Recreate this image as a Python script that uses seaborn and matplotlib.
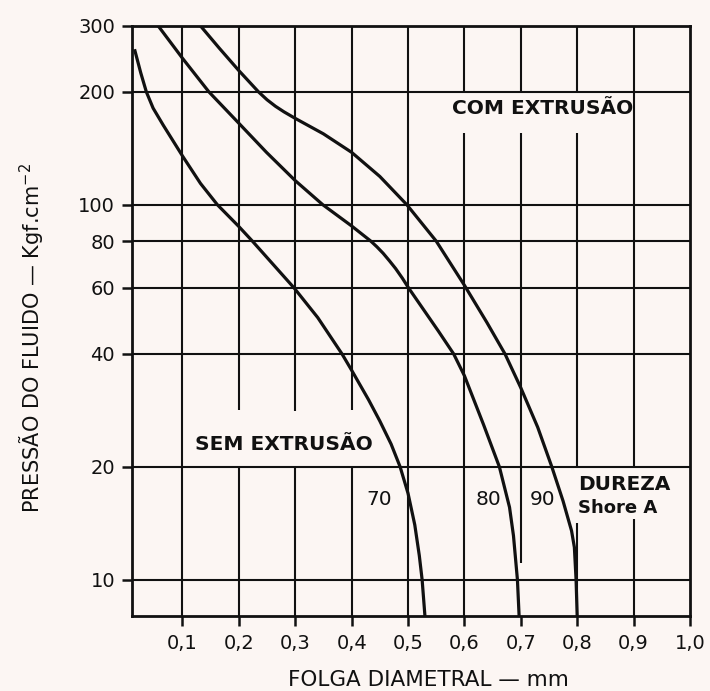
import numpy as np
import pandas as pd
import matplotlib
matplotlib.use("Agg")
import matplotlib.pyplot as plt
from matplotlib.ticker import NullLocator, FixedLocator, FixedFormatter
import seaborn as sns

# ---------------- data ----------------
dureza_labels = ["70", "80", "90"]

folga_70 = [0.015, 0.026, 0.036, 0.048, 0.066, 0.100, 0.132, 0.162, 0.200,
            0.224, 0.298, 0.340, 0.383, 0.400, 0.430, 0.450, 0.470, 0.486,
            0.500, 0.512, 0.520, 0.525, 0.530]
pressao_70 = [260, 225, 200, 181, 163, 135, 114, 100, 87.5,
              80, 60, 50.0, 40, 36.2, 30.2, 26.5, 23.0, 20,
              17.0, 14.0, 11.6, 10, 8.0]

folga_80 = [0.057, 0.100, 0.147, 0.200, 0.249, 0.300, 0.349, 0.400, 0.434,
            0.445, 0.456, 0.467, 0.478, 0.490, 0.501, 0.554, 0.581, 0.600,
            0.634, 0.662, 0.680, 0.687, 0.694, 0.697]
pressao_80 = [300, 246, 200, 165, 138, 116, 100, 87.8, 80,
              77.2, 74.2, 70.9, 67.6, 63.7, 60, 46.0, 40, 35.0,
              25.9, 20, 15.6, 13.1, 10, 8.0]

folga_90 = [0.132, 0.165, 0.200, 0.235, 0.250, 0.265, 0.280, 0.300, 0.350,
            0.400, 0.450, 0.498, 0.550, 0.600, 0.640, 0.672, 0.700, 0.730,
            0.755, 0.775, 0.790, 0.795, 0.798, 0.800]
pressao_90 = [300, 262, 228, 200, 190.6, 183.1, 177.0, 170, 154.6,
              138, 119, 100, 80, 61, 48.5, 40, 32.5, 25.5,
              20, 16.2, 13.5, 12.2, 10, 8.0]

x_ticks = [0.1, 0.2, 0.3, 0.4, 0.5, 0.6, 0.7, 0.8, 0.9, 1.0]
x_tick_labels = ["0,1", "0,2", "0,3", "0,4", "0,5", "0,6", "0,7", "0,8", "0,9", "1,0"]
y_ticks = [10, 20, 40, 60, 80, 100, 200, 300]
y_tick_labels = ["10", "20", "40", "60", "80", "100", "200", "300"]

# ---------------- style ----------------
BG = "#FCF6F3"
INK = "#111111"
sns.set_style("ticks")
plt.rcParams["font.family"] = ["DejaVu Sans"]

df = pd.concat([
    pd.DataFrame({"folga": folga_70, "pressao": pressao_70, "dureza": "70"}),
    pd.DataFrame({"folga": folga_80, "pressao": pressao_80, "dureza": "80"}),
    pd.DataFrame({"folga": folga_90, "pressao": pressao_90, "dureza": "90"}),
], ignore_index=True)

fig = plt.figure(figsize=(7.1, 6.91), dpi=100, facecolor=BG)
ax = fig.add_axes([0.1855, 0.1085, 0.7863, 0.854])
ax.set_facecolor(BG)

XMIN, XMAX = 0.01, 1.0
YMIN, YMAX = 8.0, 300

ax.set_yscale("log")
ax.set_xlim(XMIN, XMAX)
ax.set_ylim(YMIN, YMAX)

# grid lines (with the gaps left for the labels in the original drawing)
grid_lw = 1.5
ax.hlines([10, 20, 40, 60, 80, 100, 200], XMIN, XMAX, color=INK, lw=grid_lw, zorder=1)
vgrid_segments = {
    0.1: [(YMIN, YMAX)],
    0.2: [(YMIN, 20), (28.4, YMAX)],
    0.3: [(YMIN, 20), (28.2, YMAX)],
    0.4: [(YMIN, 20), (28.4, YMAX)],
    0.5: [(YMIN, YMAX)],
    0.6: [(YMIN, 155), (200, YMAX)],
    0.7: [(11.1, 155), (200, YMAX)],
    0.8: [(YMIN, 14.2), (20, 155), (200, YMAX)],
    0.9: [(YMIN, 14.5), (20, YMAX)],
}
for xv, segs in vgrid_segments.items():
    for y0, y1 in segs:
        ax.vlines(xv, y0, y1, color=INK, lw=grid_lw, zorder=1)

# curves
sns.lineplot(data=df, x="folga", y="pressao", units="dureza", estimator=None,
             sort=False, color=INK, lw=2.3, ax=ax, zorder=3, legend=False)
for ln in ax.get_lines():
    ln.set_solid_joinstyle("round")
    ln.set_solid_capstyle("butt")

# spines / ticks
for s in ax.spines.values():
    s.set_visible(True)
    s.set_color(INK)
    s.set_linewidth(2.0)

ax.yaxis.set_major_locator(FixedLocator(y_ticks))
ax.yaxis.set_major_formatter(FixedFormatter(y_tick_labels))
ax.yaxis.set_minor_locator(NullLocator())
ax.xaxis.set_major_locator(FixedLocator(x_ticks))
ax.xaxis.set_major_formatter(FixedFormatter(x_tick_labels))
ax.xaxis.set_minor_locator(NullLocator())
ax.tick_params(axis="both", direction="out", length=7, width=1.8, color=INK,
               labelcolor=INK, labelsize=14)
ax.tick_params(axis="y", pad=5)
ax.tick_params(axis="x", pad=6)

ax.set_xlabel("FOLGA DIAMETRAL — mm", fontsize=15.5, color=INK)
ax.xaxis.set_label_coords(0.531, -0.108)
ax.xaxis.label.set_va("center")
ax.set_ylabel("PRESSÃO DO FLUIDO — Kgf.cm$^{-2}$", fontsize=15, color=INK)
ax.yaxis.set_label_coords(-0.179, 0.472)
ax.yaxis.label.set_va("center")

# annotations
ax.text(0.738, 181, "COM EXTRUSÃO", fontsize=14.5, fontweight="bold",
        ha="center", va="center", color=INK)
ax.text(0.279, 22.9, "SEM EXTRUSÃO", fontsize=14.5, fontweight="bold",
        ha="center", va="center", color=INK)
for lab, xpos in zip(dureza_labels, [0.449, 0.6425, 0.738]):
    ax.text(xpos, 16.4, lab, fontsize=14.5, ha="center", va="center", color=INK)
ax.text(0.802, 17.9, "DUREZA", fontsize=14.5, fontweight="bold",
        ha="left", va="center", color=INK)
ax.text(0.802, 15.5, "Shore A", fontsize=13, fontweight="bold",
        ha="left", va="center", color=INK)

fig.savefig("out.png", dpi=100, facecolor=BG)
